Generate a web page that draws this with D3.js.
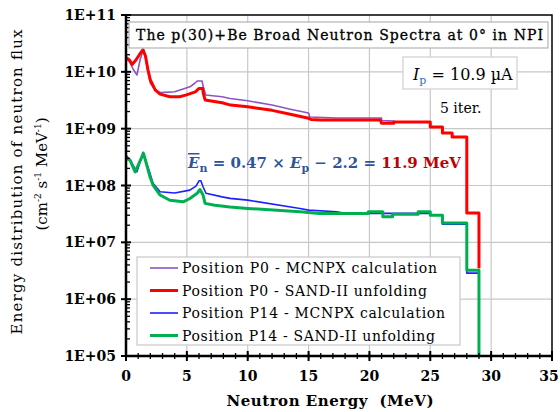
<!DOCTYPE html>
<html><head><meta charset="utf-8">
<script src="https://cdn.jsdelivr.net/npm/d3@7"></script>
<style>body{margin:0;background:#fff}</style>
</head><body>
<svg id="chart" width="560" height="412"></svg>
<script>
// values: [neutron energy (MeV), flux (cm-2 s-1 MeV-1)]
var p0Mcnpx=[[0,1.75e10],[0.3,1.5e10],[0.6,1.1e10],[0.9,8.8e9],[1.15,1.6e10],[1.4,2.4e10],[1.6,1.8e10],[1.8,1.0e10],[2.0,6.3e9],[2.4,4.8e9],[2.8,4.3e9],[4.0,4.45e9],[5.25,5.45e9],[5.65,6.3e9],[5.85,6.9e9],[6.25,6.9e9],[6.35,5.45e9],[6.55,3.9e9],[7.9,3.65e9],[8.55,3.4e9],[10,3.1e9],[12,2.6e9],[13.5,2.2e9],[15,1.88e9],[15.1,1.6e9],[17.3,1.54e9],[21,1.54e9],[21,1.39e9],[22,1.36e9],[22,1.32e9],[25,1.32e9],[25,1.08e9],[26,1.08e9],[26,8.4e8],[26.8,8.4e8],[26.8,7.1e8],[28,7.1e8],[28,3.27e7],[29,3.27e7],[29,3.5e6]];
var p0Sand=[[0,1.8e10],[0.3,1.6e10],[0.5,1.35e10],[0.8,1.6e10],[1.1,2.0e10],[1.4,2.45e10],[1.6,1.9e10],[1.8,1.1e10],[2.0,7.2e9],[2.4,4.8e9],[2.8,4.05e9],[3.6,3.65e9],[4.4,3.65e9],[4.9,3.9e9],[5.7,4.45e9],[6.0,5.1e9],[6.3,5.1e9],[6.35,4.2e9],[6.5,3.2e9],[7.9,2.85e9],[8.6,2.6e9],[10,2.43e9],[12,2.1e9],[13.5,1.8e9],[15,1.52e9],[15.2,1.45e9],[16,1.42e9],[20.9,1.42e9],[21,1.24e9],[22,1.24e9],[22,1.31e9],[25,1.31e9],[25,1.07e9],[26,1.07e9],[26,8.4e8],[26.8,8.4e8],[26.8,7.1e8],[28,7.1e8],[28,3.27e7],[29,3.27e7],[29,3.5e6]];
var p14Mcnpx=[[0,3.4e8],[0.33,2.8e8],[0.9,1.74e8],[1.4,3.85e8],[1.97,1.65e8],[2.22,1.09e8],[2.8,7.75e7],[4.0,7.4e7],[5.25,8.3e7],[5.75,9.75e7],[6.0,1.21e8],[6.15,1.21e8],[6.33,9.5e7],[6.57,7.3e7],[7.9,6.3e7],[8.55,5.93e7],[10,5.53e7],[14.3,3.95e7],[15,3.69e7],[17.3,3.45e7],[18,3.23e7],[25,3.23e7],[25,3.0e7],[26,3.0e7],[26,2.09e7],[28,2.09e7],[28,2.87e6],[29,2.87e6],[29,1e5]];
var p14Sand=[[0,3.0e8],[0.33,2.8e8],[0.75,1.74e8],[1.44,3.67e8],[1.97,1.42e8],[2.22,1.02e8],[2.8,6.8e7],[3.6,5.5e7],[4.7,5.17e7],[5.25,5.9e7],[5.85,7.3e7],[6.08,8.5e7],[6.33,6.8e7],[6.5,4.85e7],[7.3,4.5e7],[8.55,4.2e7],[10,3.95e7],[14.3,3.45e7],[15.9,3.23e7],[19.9,3.23e7],[19.9,3.45e7],[21.1,3.45e7],[21.1,2.81e7],[21.9,2.81e7],[21.9,3.13e7],[24,3.13e7],[24,3.45e7],[25,3.45e7],[25,3.0e7],[26,3.0e7],[26,2.18e7],[28,2.18e7],[28,3.24e6],[29,3.24e6],[29,1e5]];

var xTicks=[0,5,10,15,20,25,30,35];
var yTicks=[1e5,1e6,1e7,1e8,1e9,1e10,1e11];
var yTickLabels=["1E+05","1E+06","1E+07","1E+08","1E+09","1E+10","1E+11"];
var seriesNames=["Position P0 - MCNPX calculation","Position P0 - SAND-II unfolding","Position P14 - MCNPX calculation","Position P14 - SAND-II unfolding"];
var seriesData=[p0Mcnpx,p0Sand,p14Mcnpx,p14Sand];
var seriesColors=["#8d55c4","#ff0000","#1f1fff","#00b050"];
var seriesWidths=[1.6,3,1.6,3];

var svg=d3.select("#chart");
var serif="'DejaVu Serif', serif";
var plotL=126,plotR=552,plotT=15,plotB=356;
var x=d3.scaleLinear().domain([0,35]).range([plotL,plotR]);
var y=d3.scaleLog().domain([1e5,1e11]).range([plotB,plotT]);

svg.append("rect").attr("width",560).attr("height",412).attr("fill","#fff");

// grid
svg.append("g").selectAll("line").data(xTicks.slice(1,-1)).enter().append("line")
	.attr("x1",function(d){return x(d);}).attr("x2",function(d){return x(d);})
	.attr("y1",plotT).attr("y2",plotB).attr("stroke","#c8c8c8").attr("stroke-width",1.2);
svg.append("g").selectAll("line").data(yTicks.slice(1,-1)).enter().append("line")
	.attr("y1",function(d){return y(d);}).attr("y2",function(d){return y(d);})
	.attr("x1",plotL).attr("x2",plotR).attr("stroke","#c8c8c8").attr("stroke-width",1.2);

// frame
svg.append("rect").attr("x",plotL).attr("y",plotT).attr("width",plotR-plotL).attr("height",plotB-plotT)
	.attr("fill","none").attr("stroke","#000").attr("stroke-width",1.5);

// curves
svg.append("clipPath").attr("id","plotClip").append("rect")
	.attr("x",plotL).attr("y",plotT).attr("width",plotR-plotL).attr("height",plotB-plotT);
var line=d3.line().x(function(d){return x(d[0]);}).y(function(d){return y(d[1]);});
var curves=svg.append("g").attr("clip-path","url(#plotClip)");
[0,1,2,3].forEach(function(i){
	curves.append("path").attr("d",line(seriesData[i])).attr("fill","none")
		.attr("stroke",seriesColors[i]).attr("stroke-width",seriesWidths[i])
		.attr("stroke-linejoin","round");
});

// axes lines
svg.append("line").attr("x1",plotL).attr("x2",plotL).attr("y1",plotT).attr("y2",plotB).attr("stroke","#000").attr("stroke-width",2.5);
svg.append("line").attr("x1",plotL).attr("x2",plotR).attr("y1",plotB).attr("y2",plotB).attr("stroke","#000").attr("stroke-width",2.5);

// y ticks
var yMinor=[];
yTicks.slice(0,-1).forEach(function(t){for(var k=2;k<10;k++)yMinor.push(t*k);});
svg.append("g").selectAll("line").data(yMinor).enter().append("line")
	.attr("x1",plotL).attr("x2",plotL+4).attr("y1",function(d){return y(d);}).attr("y2",function(d){return y(d);})
	.attr("stroke","#000").attr("stroke-width",1.3);
svg.append("g").selectAll("line").data(yTicks).enter().append("line")
	.attr("x1",plotL-5).attr("x2",plotL+5).attr("y1",function(d){return y(d);}).attr("y2",function(d){return y(d);})
	.attr("stroke","#000").attr("stroke-width",2);
svg.append("g").selectAll("text").data(yTicks).enter().append("text")
	.attr("x",plotL-10).attr("y",function(d){return y(d)+5;}).attr("text-anchor","end")
	.attr("font-family",serif).attr("font-weight","bold").attr("font-size",14)
	.text(function(d,i){return yTickLabels[i];});

// x ticks
svg.append("g").selectAll("line").data(d3.range(0,36)).enter().append("line")
	.attr("x1",function(d){return x(d);}).attr("x2",function(d){return x(d);})
	.attr("y1",plotB-3).attr("y2",plotB+3).attr("stroke","#000").attr("stroke-width",1.3);
svg.append("g").selectAll("line").data(xTicks).enter().append("line")
	.attr("x1",function(d){return x(d);}).attr("x2",function(d){return x(d);})
	.attr("y1",plotB-5).attr("y2",plotB+5).attr("stroke","#000").attr("stroke-width",2);
svg.append("g").selectAll("text").data(xTicks).enter().append("text")
	.attr("x",function(d){return Math.min(x(d),549);}).attr("y",plotB+25).attr("text-anchor","middle")
	.attr("font-family",serif).attr("font-weight","bold").attr("font-size",14)
	.text(function(d){return d;});

// axis titles
svg.append("text").attr("x",330).attr("y",406).attr("text-anchor","middle")
	.attr("font-family",serif).attr("font-weight","bold").attr("font-size",15)
	.attr("textLength",207).attr("xml:space","preserve").text("Neutron Energy  (MeV)");
svg.append("text").attr("transform","translate(22,182) rotate(-90)").attr("text-anchor","middle")
	.attr("font-family",serif).attr("font-size",15).attr("textLength",305)
	.text("Energy distribution of neutron flux");
var yl2=svg.append("text").attr("transform","translate(47,174) rotate(-90)").attr("text-anchor","middle")
	.attr("font-family",serif).attr("font-size",15);
yl2.append("tspan").text("(cm");
yl2.append("tspan").attr("font-size",9).attr("dy",-6).text("-2");
yl2.append("tspan").attr("dy",6).text(" s");
yl2.append("tspan").attr("font-size",9).attr("dy",-6).text("-1");
yl2.append("tspan").attr("dy",6).text(" MeV");
yl2.append("tspan").attr("font-size",9).attr("dy",-6).text("-1");
yl2.append("tspan").attr("dy",6).text(")");

// title box
svg.append("rect").attr("x",129).attr("y",22).attr("width",419).attr("height",26)
	.attr("fill","#fff").attr("stroke","#b4b4b4").attr("stroke-width",1.2);
svg.append("text").attr("x",136).attr("y",40).attr("font-family",serif).attr("font-size",14)
	.attr("textLength",407).attr("stroke","#000").attr("stroke-width",0.3)
	.text("The p(30)+Be Broad Neutron Spectra at 0\u00b0 in NPI");

// current box
svg.append("rect").attr("x",403).attr("y",57).attr("width",114).attr("height",32)
	.attr("fill","#fff").attr("stroke","#d0d0d0").attr("stroke-width",1.2);
var ip=svg.append("text").attr("x",413).attr("y",80).attr("font-family",serif).attr("font-size",16);
ip.append("tspan").attr("font-style","italic").text("I");
ip.append("tspan").attr("font-size",11).attr("dy",4).attr("fill","#2f6fbf").text("p");
ip.append("tspan").attr("dy",-4).text(" = 10.9 \u00b5A");
svg.append("text").attr("x",440).attr("y",113).attr("font-family",serif).attr("font-size",14).text("5 iter.");

// mean energy formula
var eq=svg.append("text").attr("x",188).attr("y",168).attr("font-family",serif).attr("font-weight","bold")
	.attr("font-size",15).attr("fill","#2f5597");
eq.append("tspan").attr("font-style","italic").attr("text-decoration","overline").text("E");
eq.append("tspan").attr("font-size",11).attr("dy",4).text("n");
eq.append("tspan").attr("dy",-4).text(" = 0.47 \u00d7 ");
eq.append("tspan").attr("font-style","italic").text("E");
eq.append("tspan").attr("font-size",11).attr("dy",4).text("p");
eq.append("tspan").attr("dy",-4).text(" \u2212 2.2 = ");
eq.append("tspan").attr("fill","#c00000").text("11.9 MeV");

// legend
svg.append("rect").attr("x",137).attr("y",257).attr("width",323).attr("height",88)
	.attr("fill","#fff").attr("stroke","#c8c8c8").attr("stroke-width",1.2);
var legendWidths=[255,245,263,253];
var lg=svg.append("g").selectAll("g").data(seriesNames).enter().append("g")
	.attr("transform",function(d,i){return "translate(0,"+(268+i*22.5)+")";});
lg.append("line").attr("x1",150).attr("x2",178).attr("y1",0).attr("y2",0)
	.attr("stroke",function(d,i){return seriesColors[i];}).attr("stroke-width",function(d,i){return seriesWidths[i];});
lg.append("text").attr("x",182).attr("y",5).attr("font-family",serif).attr("font-size",14)
	.attr("textLength",function(d,i){return legendWidths[i];})
	.text(function(d){return d;});
</script>
</body></html>
